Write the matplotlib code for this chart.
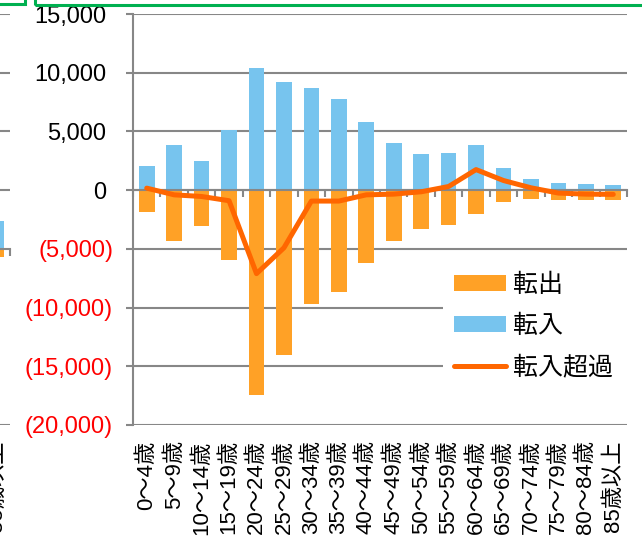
import numpy as np
import matplotlib.pyplot as plt
from matplotlib.patches import Rectangle

plt.rcParams['font.family'] = ['Liberation Sans', 'Noto Sans CJK JP']

ages = ['0～4歳', '5～9歳', '10～14歳', '15～19歳', '20～24歳', '25～29歳',
        '30～34歳', '35～39歳', '40～44歳', '45～49歳', '50～54歳', '55～59歳',
        '60～64歳', '65～69歳', '70～74歳', '75～79歳', '80～84歳', '85歳以上']
inflow = [2030, 3870, 2460, 5140, 10390, 9180, 8700, 7770, 5820, 4010,
          3080, 3190, 3840, 1860, 990, 630, 540, 460]
outflow = [-1890, -4290, -3020, -5990, -17450, -14060, -9660, -8700, -6210, -4350,
           -3300, -2940, -2030, -1040, -790, -820, -820, -820]
net = [170, -400, -540, -900, -7110, -4910, -930, -930, -400, -340,
       -140, 310, 1750, 820, 200, -250, -340, -360]
yticks = [-20000, -15000, -10000, -5000, 0, 5000, 10000, 15000]

# the neighbouring chart that is cut off on the left edge
left_pos = [17]
left_labels = ['85歳以上']
left_inflow = [2400]
left_outflow = [-700]

C_OUT = '#FFA126'
C_IN = '#77C4EE'
C_NET = '#FF6600'
GRAY = '#878787'

W, H = 642, 544
fig = plt.figure(figsize=(W / 100, H / 100), dpi=100)

ax = fig.add_axes([133 / W, 1 - 425 / H, 494 / W, 411 / H])
x = np.arange(len(ages))
b_out = ax.bar(x, outflow, width=0.57, color=C_OUT, label='転出', zorder=2)
b_in = ax.bar(x, inflow, width=0.57, color=C_IN, label='転入', zorder=2)
l_net, = ax.plot(x, net, color=C_NET, lw=3.6, label='転入超過', zorder=5,
                 solid_joinstyle='round', solid_capstyle='round')

ax.set_xlim(-0.5, len(ages) - 0.5)
ax.set_ylim(-20000, 15000)
ax.set_axisbelow(True)
for s in ['top', 'right', 'bottom']:
    ax.spines[s].set_visible(False)
ax.spines['left'].set_color(GRAY)
ax.spines['left'].set_linewidth(1.5)

ylabels = [f'{v:,}' if v >= 0 else f'({-v:,})' for v in yticks]
ax.set_yticks(yticks, labels=ylabels)
ax.tick_params(axis='y', length=5, width=1.5, color=GRAY, labelsize=17, pad=9.4)
for t, v in zip(ax.get_yticklabels(), yticks):
    t.set_color('#FF0000' if v < 0 else 'black')
for tk, v in zip(ax.yaxis.get_major_ticks(), yticks):
    if v >= 0:
        tk.set_pad(14.4)
ax.grid(axis='y', color=GRAY, lw=1.5)

ax.set_xticks(x, labels=ages, rotation=90)
ax.tick_params(axis='x', length=0, labelsize=16, pad=11)

# category axis crossing at zero
zero_ax = ax.secondary_xaxis(20000 / 35000)
zero_ax.set_alignment('bottom')
zero_ax.set_xticks(np.arange(-0.5, len(ages), 1), labels=[])
zero_ax.tick_params(length=5, width=1.5, color=GRAY, direction='out')
zero_ax.spines['bottom'].set_color(GRAY)
zero_ax.spines['bottom'].set_linewidth(1.5)
zero_ax.set_zorder(3)

leg = ax.legend([b_out, b_in, l_net], ['転出', '転入', '転入超過'],
                loc='upper left', bbox_to_anchor=(0.628, 0.0, 0.38, 0.40),
                mode='expand', borderaxespad=0,
                frameon=True, fancybox=False, framealpha=1, edgecolor='none',
                facecolor='white', handlelength=2.05, handleheight=0.56,
                handletextpad=0.28, labelspacing=0.6, borderpad=0.45,
                prop={'family': ['Noto Sans CJK JP'], 'size': 18})
leg.set_zorder(6)

# partial chart on the left edge
axl = fig.add_axes([-483 / W, 1 - 425 / H, 493 / W, 411 / H])
axl.bar(left_pos, left_outflow, width=0.57, color=C_OUT, zorder=2)
axl.bar(left_pos, left_inflow, width=0.57, color=C_IN, zorder=2)
axl.set_xlim(-0.5, 17.5)
axl.set_ylim(-15000, 20000)
axl.set_axisbelow(True)
for s in axl.spines.values():
    s.set_visible(False)
axl.set_yticks([-15000, 5000, 10000, 15000, 20000], labels=[])
axl.tick_params(axis='y', length=0)
axl.grid(axis='y', color=GRAY, lw=1.5)
axl.set_xticks(left_pos, labels=left_labels, rotation=90)
axl.tick_params(axis='x', length=0, labelsize=16, pad=11)
zl = axl.secondary_xaxis(15000 / 35000)
zl.set_alignment('bottom')
zl.set_xticks(np.arange(-0.5, 18, 1), labels=[])
zl.tick_params(length=5, width=1.5, color=GRAY, direction='out')
zl.spines['bottom'].set_color(GRAY)
zl.spines['bottom'].set_linewidth(1.5)
zl.set_zorder(3)

# green frames cut off at the top
GREEN = '#00B050'
fig.add_artist(Rectangle((-10 / W, 1 - 4 / H), 35 / W, 30 / H, transform=fig.transFigure,
                         fill=False, ec=GREEN, lw=2.2, clip_on=False))
fig.add_artist(Rectangle((35 / W, 1 - 5 / H), 630 / W, 30 / H, transform=fig.transFigure,
                         fill=False, ec=GREEN, lw=2.2, clip_on=False))

fig.savefig('out.png', dpi=100)
